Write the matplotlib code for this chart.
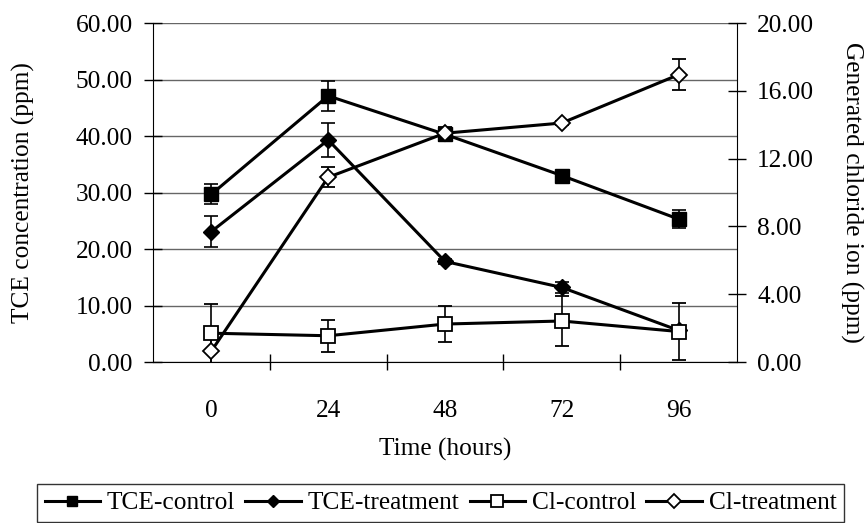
import matplotlib
matplotlib.use('Agg')
import matplotlib.pyplot as plt
from matplotlib.lines import Line2D
from matplotlib.ticker import FixedLocator, MultipleLocator

# data
hours = ['0', '24', '48', '72', '96']
tce_control = [29.7, 47.1, 40.3, 33.0, 25.3]
tce_control_err = [1.8, 2.7, 1.2, 0.4, 1.6]
tce_treatment = [23.1, 39.3, 17.8, 13.2, 5.6]
tce_treatment_err = [2.7, 3.0, 0.5, 1.0, 0.7]
cl_control = [1.7, 1.55, 2.24, 2.42, 1.8]
cl_control_err = [1.75, 0.95, 1.05, 1.5, 1.7]
cl_treatment = [0.65, 10.9, 13.5, 14.1, 16.95]
cl_treatment_err = [0.9, 0.6, 0.35, 0.1, 0.9]
labels = ['TCE-control', 'TCE-treatment', 'Cl-control', 'Cl-treatment']

plt.rcParams['font.family'] = ['Liberation Serif', 'DejaVu Serif']
plt.rcParams['font.size'] = 18.3

fig = plt.figure(figsize=(8.67, 5.23), dpi=100)
ax = fig.add_axes([0.1765, 0.3078, 0.6735, 0.6482])
ax2 = ax.twinx()

x = list(range(len(hours)))
lw = 2.2
common = dict(color='black', lw=lw, elinewidth=1.2, capsize=5, capthick=1.2)
styles = [
    dict(marker='s', ms=9.5, mfc='black', mec='black'),
    dict(marker='D', ms=8, mfc='black', mec='black'),
    dict(marker='s', ms=10, mfc='white', mec='black', mew=1.3),
    dict(marker='D', ms=8.5, mfc='white', mec='black', mew=1.3),
]

ax.errorbar(x, tce_control, yerr=tce_control_err, **styles[0], **common)
ax.errorbar(x, tce_treatment, yerr=tce_treatment_err, **styles[1], **common)
ax2.errorbar(x, cl_control, yerr=cl_control_err, **styles[2], **common)
ax2.errorbar(x, cl_treatment, yerr=cl_treatment_err, **styles[3], **common)

ax.set_xlim(-0.5, 4.5)
ax.set_ylim(0, 60)
ax2.set_ylim(0, 20)
ax.yaxis.set_major_locator(MultipleLocator(10))
ax2.yaxis.set_major_locator(MultipleLocator(4))
ax.yaxis.set_major_formatter(lambda v, p: f'{v:.2f}')
ax2.yaxis.set_major_formatter(lambda v, p: f'{v:.2f}')

ax.set_xticks(x)
ax.set_xticklabels(hours)
ax.xaxis.set_minor_locator(FixedLocator([0.5, 1.5, 2.5, 3.5]))
ax.tick_params(axis='x', which='major', length=0, pad=27)
ax.tick_params(axis='x', which='minor', direction='inout', length=12, width=1)
ax.tick_params(axis='y', direction='inout', length=13, width=1, pad=8)
ax2.tick_params(axis='y', direction='inout', length=13, width=1, pad=8)

ax.grid(axis='y', color='#666666', lw=1)
ax.set_axisbelow(True)
for a in (ax, ax2):
    a.spines['top'].set_visible(False)
    a.patch.set_visible(False)
ax.spines['right'].set_visible(False)
ax2.spines['left'].set_visible(False)
ax2.spines['bottom'].set_visible(False)

ax.set_xlabel('Time (hours)', labelpad=12)
ax.set_ylabel('TCE concentration (ppm)', labelpad=29)
ax2.set_ylabel('Generated chloride ion (ppm)', rotation=-90, labelpad=35)

handles = [Line2D([], [], color='black', lw=lw, **{**s, 'ms': s['ms'] * 0.8})
           for s in styles]
leg = fig.legend(handles, labels,
                 loc='upper center', bbox_to_anchor=(0.508, 0.0746), ncol=4,
                 frameon=True, fancybox=False, edgecolor='black',
                 handlelength=2.2, handletextpad=0.25, columnspacing=0.4,
                 borderpad=0.3, borderaxespad=0)
leg.get_frame().set_linewidth(1)

fig.savefig('out.png', dpi=100)
